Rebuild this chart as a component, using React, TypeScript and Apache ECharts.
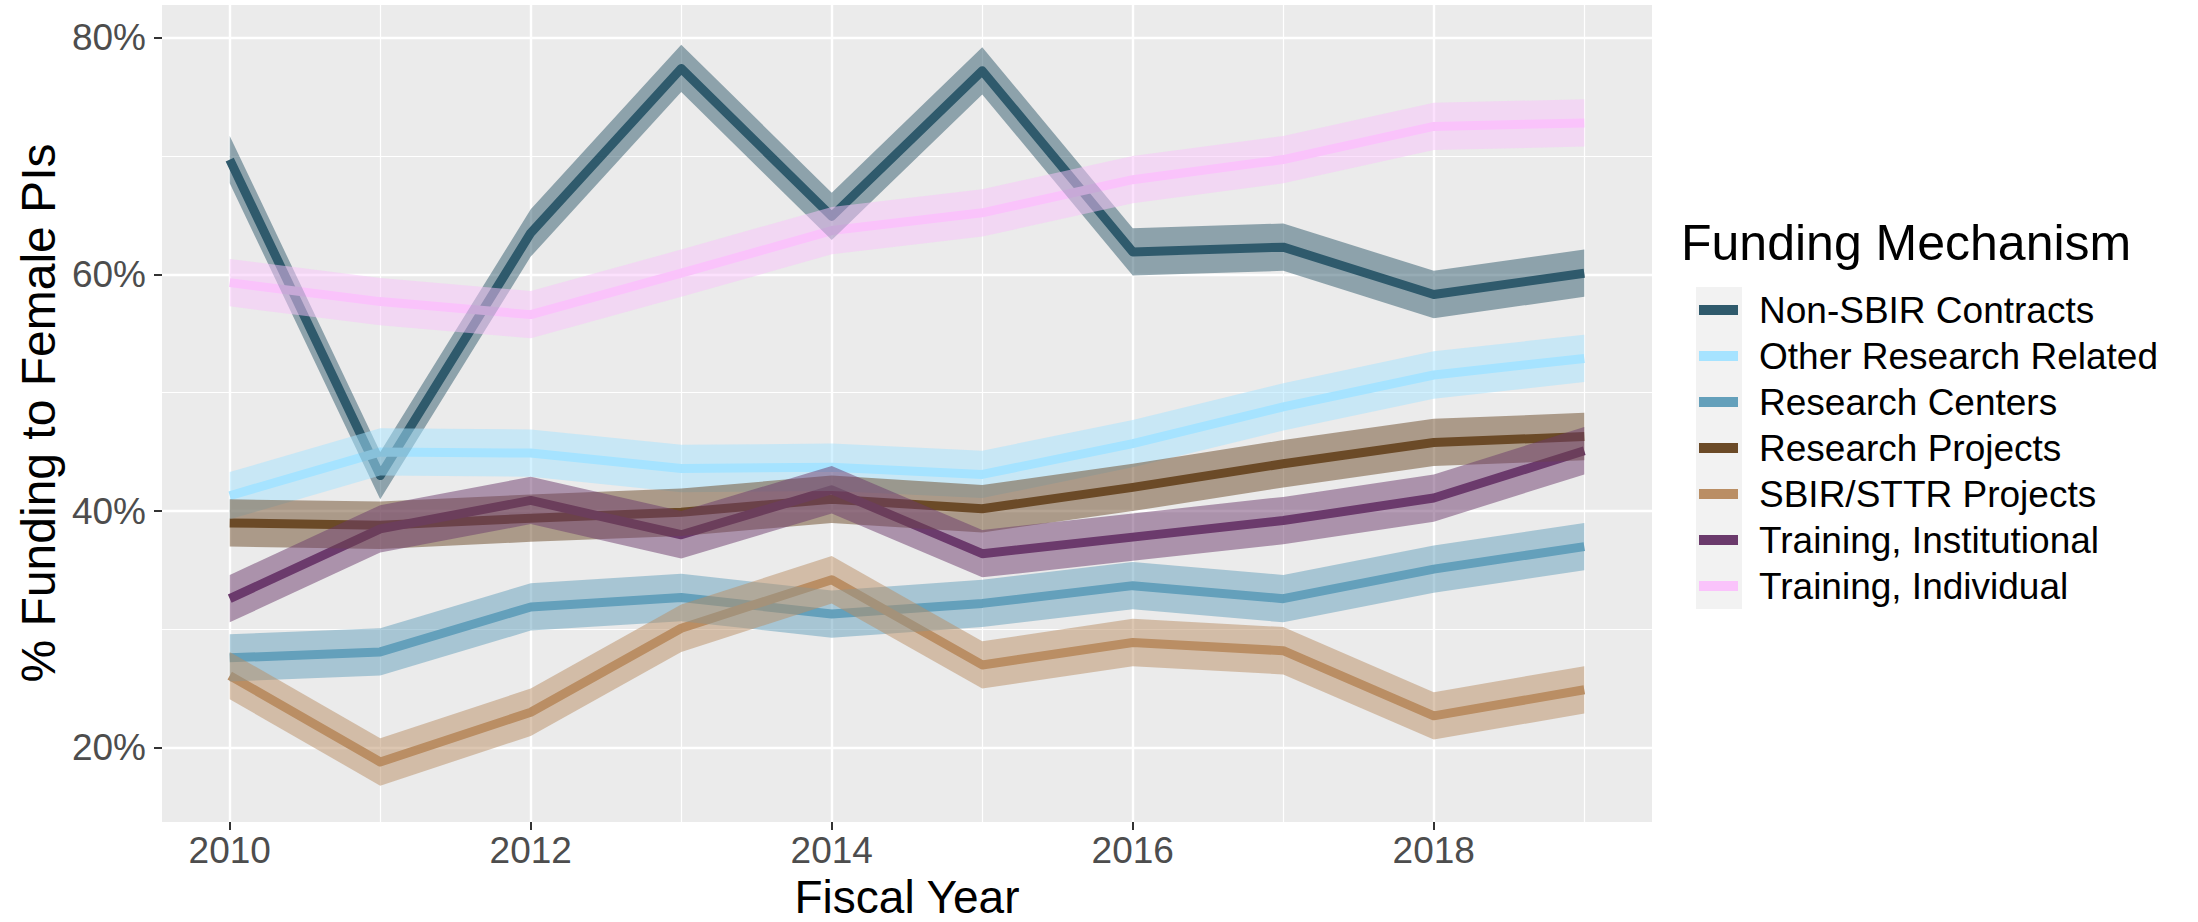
import React, { useEffect, useRef } from 'react';
import * as echarts from 'echarts';

// ---- data ----
const years = [2010, 2011, 2012, 2013, 2014, 2015, 2016, 2017, 2018, 2019];

const mechanisms = [
  'Non-SBIR Contracts',
  'Other Research Related',
  'Research Centers',
  'Research Projects',
  'SBIR/STTR Projects',
  'Training, Institutional',
  'Training, Individual',
];

const nonSbirContracts = [69.7, 43.0, 63.5, 77.4, 64.9, 77.2, 61.9, 62.3, 58.3, 60.1];
const otherResearchRelated = [41.3, 45.0, 44.9, 43.6, 43.7, 43.1, 45.7, 48.8, 51.5, 52.9];
const researchCenters = [27.6, 28.1, 31.9, 32.7, 31.3, 32.2, 33.7, 32.6, 35.1, 37.0];
const researchProjects = [39.0, 38.8, 39.4, 39.9, 41.0, 40.2, 42.0, 44.0, 45.8, 46.3];
const sbirSttrProjects = [26.1, 18.8, 23.0, 30.1, 34.2, 27.0, 28.9, 28.2, 22.7, 24.9];
const trainingInstitutional = [32.6, 38.5, 40.9, 38.0, 41.8, 36.4, 37.8, 39.2, 41.1, 45.1];
const trainingIndividual = [59.3, 57.7, 56.6, 60.1, 63.7, 65.2, 68.0, 69.7, 72.5, 72.8];

// half-width of each confidence band (percentage points)
const bandHalfWidth = [2.0, 2.0, 2.0, 2.0, 2.0, 2.0, 2.0];

const xTickValues = [2010, 2012, 2014, 2016, 2018];
const xMinorGridValues = [2011, 2013, 2015, 2017, 2019];
const yTickValues = [20, 40, 60, 80];
const yMinorGridValues = [30, 50, 70];

// ---- styling ----
const seriesValues = [
  nonSbirContracts,
  otherResearchRelated,
  researchCenters,
  researchProjects,
  sbirSttrProjects,
  trainingInstitutional,
  trainingIndividual,
];
const colors = ['#2F5A6C', '#A6E3FF', '#64A0BB', '#6B4A27', '#BA8E64', '#6B3A6C', '#FAC3FB'];
const FONT = "'Liberation Sans', Arial, Helvetica, sans-serif";

const X_MIN = 2009.55;
const X_MAX = 2019.45;
const Y_MIN = 13.73;
const Y_MAX = 82.76;

function rgba(hex: string, a: number) {
  const r = parseInt(hex.slice(1, 3), 16);
  const g = parseInt(hex.slice(3, 5), 16);
  const b = parseInt(hex.slice(5, 7), 16);
  return `rgba(${r},${g},${b},${a})`;
}

function buildOption() {
  const lineSeries = mechanisms.map((name, i) => ({
    type: 'line',
    name,
    xAxisIndex: 0,
    yAxisIndex: 0,
    data: years.map((y, j) => [y, seriesValues[i][j]]),
    showSymbol: false,
    symbol: 'none',
    silent: true,
    z: 2,
    color: colors[i],
    itemStyle: { color: colors[i] },
    lineStyle: { width: 9, color: colors[i], cap: 'butt', join: 'round' },
  }));

  const bandSeries = mechanisms.map((name, i) => ({
    type: 'custom',
    name: name + ' band',
    xAxisIndex: 0,
    yAxisIndex: 0,
    silent: true,
    z: 3,
    dimensions: ['year', 'low', 'high'],
    encode: { x: 0, y: [1, 2] },
    data: years.map((y, j) => [
      y,
      seriesValues[i][j] - bandHalfWidth[i],
      seriesValues[i][j] + bandHalfWidth[i],
    ]),
    renderItem: (params: any, api: any) => {
      if (params.dataIndex !== 0) return null;
      const n = params.dataInsideLength;
      const upper: number[][] = [];
      const lower: number[][] = [];
      for (let k = 0; k < n; k++) {
        upper.push(api.coord([api.value(0, k), api.value(2, k)]));
        lower.push(api.coord([api.value(0, k), api.value(1, k)]));
      }
      return {
        type: 'polygon',
        shape: { points: upper.concat(lower.reverse()) },
        style: { fill: rgba(colors[i], 0.5), stroke: 'none' },
      };
    },
  }));

  const tickLabel = { fontSize: 37, lineHeight: 37, color: '#4D4D4D', fontFamily: FONT };

  return {
    animation: false,
    backgroundColor: '#FFFFFF',
    grid: {
      left: 162,
      top: 5,
      width: 1490,
      height: 817,
      show: true,
      backgroundColor: '#EBEBEB',
      borderWidth: 0,
      containLabel: false,
    },
    xAxis: [
      {
        type: 'value',
        min: X_MIN,
        max: X_MAX,
        position: 'bottom',
        axisLine: { show: false },
        axisTick: {
          show: true,
          customValues: xTickValues,
          length: 8,
          lineStyle: { color: '#333333', width: 2 },
        },
        axisLabel: {
          show: true,
          customValues: xTickValues,
          margin: 10,
          formatter: (v: number) => String(v),
          ...tickLabel,
        },
        splitLine: { show: true, lineStyle: { color: '#FFFFFF', width: 2.4 } },
      },
      {
        type: 'value',
        min: X_MIN,
        max: X_MAX,
        position: 'bottom',
        axisLine: { show: false },
        axisTick: { show: false, customValues: xMinorGridValues },
        axisLabel: { show: false, customValues: xMinorGridValues },
        splitLine: { show: true, lineStyle: { color: '#FFFFFF', width: 1.2 } },
      },
    ],
    yAxis: [
      {
        type: 'value',
        min: Y_MIN,
        max: Y_MAX,
        position: 'left',
        axisLine: { show: false },
        axisTick: {
          show: true,
          customValues: yTickValues,
          length: 8,
          lineStyle: { color: '#333333', width: 2 },
        },
        axisLabel: {
          show: true,
          customValues: yTickValues,
          margin: 16,
          formatter: (v: number) => `${Math.round(v)}%`,
          ...tickLabel,
        },
        splitLine: { show: true, lineStyle: { color: '#FFFFFF', width: 2.4 } },
      },
      {
        type: 'value',
        min: Y_MIN,
        max: Y_MAX,
        position: 'left',
        axisLine: { show: false },
        axisTick: { show: false, customValues: yMinorGridValues },
        axisLabel: { show: false, customValues: yMinorGridValues },
        splitLine: { show: true, lineStyle: { color: '#FFFFFF', width: 1.2 } },
      },
    ],
    legend: {
      show: true,
      orient: 'vertical',
      left: 1699,
      top: 287,
      padding: 0,
      itemGap: 0,
      itemWidth: 39,
      itemHeight: 10,
      icon: 'rect',
      selectedMode: false,
      data: mechanisms,
      textStyle: {
        fontSize: 37,
        color: '#000000',
        fontFamily: FONT,
        lineHeight: 46,
        padding: [0, 0, 0, 16],
      },
    },
    graphic: [
      {
        type: 'rect',
        z: 0,
        silent: true,
        shape: { x: 1696, y: 287, width: 46, height: 322 },
        style: { fill: '#F2F2F2' },
      },
      {
        type: 'text',
        silent: true,
        x: 1681,
        y: 243,
        style: {
          text: 'Funding Mechanism',
          fill: '#000000',
          font: `50px ${FONT}`,
          textAlign: 'left',
          textVerticalAlign: 'middle',
        },
      },
      {
        type: 'text',
        silent: true,
        x: 907,
        y: 897,
        style: {
          text: 'Fiscal Year',
          fill: '#000000',
          font: `46px ${FONT}`,
          textAlign: 'center',
          textVerticalAlign: 'middle',
        },
      },
      {
        type: 'text',
        silent: true,
        x: 38,
        y: 413,
        rotation: Math.PI / 2,
        style: {
          text: '% Funding to Female PIs',
          fill: '#000000',
          font: `48px ${FONT}`,
          textAlign: 'center',
          textVerticalAlign: 'middle',
        },
      },
    ],
    series: [...lineSeries, ...bandSeries],
  };
}

export default function App() {
  const ref = useRef<HTMLDivElement>(null);
  useEffect(() => {
    if (!ref.current) return;
    const chart = echarts.init(ref.current, undefined, { renderer: 'svg' });
    chart.setOption(buildOption() as any);
    return () => chart.dispose();
  }, []);
  return (
    <div
      ref={ref}
      style={{ position: 'absolute', left: 0, top: 0, width: 2198, height: 922, background: '#FFFFFF' }}
    />
  );
}
